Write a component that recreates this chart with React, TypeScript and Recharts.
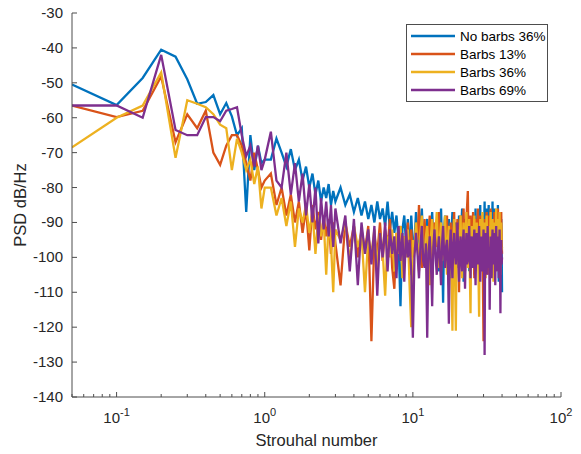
import { LineChart, Line, XAxis, YAxis } from "recharts";

// Strouhal number bins (subset of the PSD frequency axis)
const strouhal = [
  0.05, 0.1, 0.15, 0.2, 0.25, 0.3, 0.35, 0.4, 0.45, 0.5,
  0.55, 0.6, 0.65, 0.7, 0.75, 0.8, 0.85, 0.9, 0.95, 1.0,
  1.1, 1.2, 1.3, 1.4, 1.5, 1.6, 1.7, 1.8, 1.9, 2.0,
  2.1, 2.2, 2.3, 2.4, 2.5, 2.6, 2.7, 2.8, 2.9, 3.0,
  3.25, 3.5, 3.75, 4.0, 4.25, 4.5, 4.75, 5.0, 5.25, 5.5,
  5.75, 6.0, 6.25, 6.5, 6.75, 7.0, 7.25, 7.5, 7.75, 8.0,
  8.25, 8.5, 8.75, 9.0, 9.25, 9.5, 9.75, 10.0,
  10.25, 10.5, 10.75, 11, 11.25, 11.5, 11.75, 12, 12.25, 12.5,
  12.75, 13, 13.25, 13.5, 13.75, 14, 14.25, 14.5, 14.75, 15,
  15.25, 15.5, 15.75, 16, 16.25, 16.5, 16.75, 17, 17.25, 17.5,
  17.75, 18, 18.25, 18.5, 18.75, 19, 19.25, 19.5, 19.75, 20,
  20.25, 20.5, 20.75, 21, 21.25, 21.5, 21.75, 22, 22.25, 22.5,
  22.75, 23, 23.25, 23.5, 23.75, 24, 24.25, 24.5, 24.75, 25,
  25.25, 25.5, 25.75, 26, 26.25, 26.5, 26.75, 27, 27.25, 27.5,
  27.75, 28, 28.25, 28.5, 28.75, 29, 29.25, 29.5, 29.75, 30,
  30.25, 30.5, 30.75, 31, 31.25, 31.5, 31.75, 32, 32.25, 32.5,
  32.75, 33, 33.25, 33.5, 33.75, 34, 34.25, 34.5, 34.75, 35,
  35.25, 35.5, 35.75, 36, 36.25, 36.5, 36.75, 37, 37.25, 37.5,
  37.75, 38, 38.25, 38.5, 38.75, 39, 39.25, 39.5, 39.75, 40,
];

const noBarbs36 = [
  -50.5, -56.4, -48.6, -40.5, -42.5, -49, -56, -55.5, -53.5, -59,
  -55.8, -59.6, -65, -63, -87, -65, -75, -68, -73, -72,
  -72, -66, -70, -74, -69, -75, -72, -78, -74, -80,
  -76, -82, -78, -84, -80, -83, -79, -85, -81, -84,
  -80, -85, -82, -87, -83, -88, -84, -89, -85, -90,
  -84, -89, -86, -91, -84, -92, -87, -93, -88, -95,
  -114, -92, -88, -96, -89, -100, -88, -97,
  -96, -87, -94, -102, -91, -86, -97, -98, -93, -89,
  -99, -105, -92, -87, -95, -99, -91, -90, -97, -104,
  -93, -86, -98, -113, -92, -88, -96, -100, -93, -89,
  -97, -106, -92, -87, -95, -101, -93, -90, -98, -103,
  -94, -88, -96, -99, -91, -86, -97, -107, -92, -89,
  -95, -100, -93, -87, -97, -104, -92, -90, -96, -98,
  -93, -88, -98, -105, -91, -86, -95, -101, -92, -89,
  -96, -103, -91, -85, -97, -100, -93, -88, -95, -106,
  -92, -84, -97, -102, -90, -86, -96, -99, -91, -85,
  -95, -104, -92, -87, -98, -101, -90, -84, -96, -105,
  -93, -86, -97, -100, -91, -88, -95, -103, -92, -85,
  -96, -107, -91, -87, -98, -104, -93, -89, -97, -110,
];

const barbs13 = [
  -56.5, -59.8, -58, -48.2, -67, -59, -63, -58, -70, -73.5,
  -68, -65, -65, -68, -73, -78, -70, -75, -80, -78,
  -76, -85, -80, -88, -82, -90, -84, -93, -86, -98,
  -85, -92, -87, -95, -88, -94, -89, -99, -90, -96,
  -108, -90, -97, -91, -100, -92, -98, -91, -124, -94,
  -99, -90, -101, -92, -97, -89, -103, -109, -93, -98,
  -91, -102, -94, -99, -90, -105, -92, -100,
  -98, -92, -95, -85, -100, -103, -94, -89, -97, -98,
  -93, -88, -99, -106, -92, -90, -96, -97, -91, -87,
  -99, -104, -93, -91, -97, -99, -92, -88, -101, -108,
  -94, -90, -98, -96, -92, -87, -100, -102, -93, -89,
  -97, -110, -92, -88, -99, -97, -93, -86, -98, -104,
  -92, -89, -85, -81, -96, -100, -93, -88, -99, -95,
  -92, -87, -98, -106, -93, -89, -97, -98, -92, -86,
  -99, -103, -94, -88, -96, -97, -93, -90, -110, -124,
  -95, -89, -98, -99, -92, -87, -100, -105, -94, -88,
  -97, -96, -92, -86, -99, -102, -93, -89, -97, -98,
  -94, -87, -100, -104, -93, -88, -96, -97, -92, -86,
  -98, -101, -93, -89, -97, -96, -92, -87, -95, -99,
];

const barbs36 = [
  -68.5, -60, -56.5, -47, -71.5, -55, -56, -57, -59, -62,
  -63, -75, -66, -70, -75, -72, -79, -74, -86, -80,
  -80, -88, -83, -91, -84, -97, -86, -90, -85, -93,
  -87, -99, -88, -94, -89, -105, -90, -96, -110, -92,
  -95, -90, -101, -91, -97, -93, -110, -94, -99, -92,
  -103, -93, -98, -111, -94, -100, -92, -104, -93, -99,
  -91, -106, -94, -100, -92, -108, -120, -95,
  -97, -90, -96, -104, -93, -88, -100, -99, -94, -91,
  -98, -108, -94, -89, -99, -98, -92, -87, -97, -103,
  -94, -90, -101, -99, -93, -88, -98, -105, -95, -91,
  -99, -100, -107, -121, -96, -89, -104, -121, -97, -92,
  -93, -99, -96, -88, -100, -106, -94, -90, -99, -98,
  -93, -87, -99, -103, -94, -89, -105, -116, -96, -91,
  -95, -100, -93, -88, -99, -104, -94, -90, -97, -98,
  -106, -117, -94, -89, -99, -101, -93, -87, -98, -97,
  -94, -90, -100, -106, -93, -88, -97, -99, -95, -91,
  -98, -103, -94, -87, -99, -100, -93, -89, -101, -107,
  -95, -90, -98, -98, -93, -86, -99, -104, -94, -89,
  -96, -100, -93, -87, -99, -105, -95, -90, -98, -97,
];

const barbs69 = [
  -56.5, -56.5, -60, -42, -63.5, -65, -65, -59.8, -59.8, -61,
  -58, -57.5, -57, -65, -71, -68, -74, -68, -75, -72,
  -64, -78, -80, -70, -82, -73, -84, -76, -88, -79,
  -90, -80, -96, -83, -92, -84, -94, -85, -97, -86,
  -96, -88, -104, -89, -108, -90, -99, -92, -102, -91,
  -111, -93, -100, -90, -104, -92, -99, -94, -106, -91,
  -101, -93, -107, -92, -100, -95, -104, -123,
  -100, -93, -99, -106, -97, -91, -101, -103, -96, -123,
  -99, -94, -102, -114, -97, -92, -100, -105, -98, -94,
  -101, -108, -96, -91, -99, -103, -97, -95, -102, -119,
  -98, -92, -101, -106, -96, -93, -99, -102, -97, -90,
  -100, -107, -97, -94, -101, -104, -96, -92, -100, -109,
  -98, -93, -102, -101, -96, -91, -99, -106, -97, -94,
  -100, -103, -96, -92, -101, -108, -97, -93, -99, -102,
  -96, -91, -100, -107, -98, -94, -102, -104, -97, -92,
  -101, -128, -97, -93, -100, -105, -96, -91, -99, -103,
  -97, -115, -101, -94, -99, -106, -96, -92, -100, -102,
  -98, -93, -101, -108, -97, -91, -100, -104, -96, -94,
  -99, -106, -97, -92, -101, -116, -98, -95, -102, -100,
];

const seriesNames = ["No barbs 36%", "Barbs 13%", "Barbs 36%", "Barbs 69%"];
const seriesColors = ["#0072BD", "#D95319", "#EDB120", "#7E2F8E"];
const seriesKeys = ["nb36", "b13", "b36", "b69"];

const yTicks = [-140, -130, -120, -110, -100, -90, -80, -70, -60, -50, -40, -30];
const xMajor = [0.1, 1, 10, 100];
const xMinor = [
  0.05, 0.06, 0.07, 0.08, 0.09,
  0.2, 0.3, 0.4, 0.5, 0.6, 0.7, 0.8, 0.9,
  2, 3, 4, 5, 6, 7, 8, 9,
  20, 30, 40, 50, 60, 70, 80, 90,
];

const data = strouhal.map((x, i) => ({
  x,
  nb36: noBarbs36[i],
  b13: barbs13[i],
  b36: barbs36[i],
  b69: barbs69[i],
}));

const FONT = '"Liberation Sans", Arial, Helvetica, sans-serif';
const TEXT = "#262626";
const AXIS = "#4d4d4d";

function XTick({ x, y, payload }: any) {
  const v = payload.value;
  const e = Math.round(Math.log10(v));
  const major = xMajor.includes(v);
  return (
    <g>
      <line x1={x} x2={x} y1={y} y2={y - (major ? 5 : 3)} stroke={AXIS} strokeWidth={1} />
      {major && (
        <text x={x} y={y + 26} textAnchor="middle" fontSize={15} fill={TEXT} fontFamily={FONT}>
          <tspan>10</tspan>
          <tspan dy={-7} fontSize={11}>{e}</tspan>
        </text>
      )}
    </g>
  );
}

function YTick({ x, y, payload }: any) {
  return (
    <g>
      <line x1={x} x2={x + 5} y1={y} y2={y} stroke={AXIS} strokeWidth={1} />
      <text x={x - 9} y={y} dy={5} textAnchor="end" fontSize={15} fill={TEXT} fontFamily={FONT}>
        {payload.value}
      </text>
    </g>
  );
}

function LegendBox() {
  return (
    <div
      style={{
        position: "absolute",
        left: 406,
        top: 24,
        border: `1px solid ${AXIS}`,
        background: "#fff",
        width: 140,
        padding: "2px 0",
        fontFamily: FONT,
        fontSize: 13.5,
        color: "#000",
      }}
    >
      {seriesNames.map((name, i) => (
        <div key={name} style={{ display: "flex", alignItems: "center", height: 18 }}>
          <svg width={53} height={18} style={{ flexShrink: 0 }}>
            <line x1={4} x2={48} y1={9} y2={9} stroke={seriesColors[i]} strokeWidth={2.5} />
          </svg>
          <span>{name}</span>
        </div>
      ))}
    </div>
  );
}

export default function App() {
  return (
    <div style={{ position: "absolute", left: 0, top: 0, width: 581, height: 454, background: "#fff" }}>
      <LineChart
        width={581}
        height={454}
        data={data}
        margin={{ top: 13, right: 20, bottom: 16, left: 12 }}
      >
        <XAxis
          dataKey="x"
          type="number"
          scale="log"
          domain={[0.05, 100]}
          allowDataOverflow
          ticks={[...xMinor, ...xMajor].sort((a, b) => a - b)}
          interval={0}
          tick={<XTick />}
          tickLine={false}
          tickSize={0}
          tickMargin={0}
          height={41}
          axisLine={{ stroke: AXIS }}
          label={{
            value: "Strouhal number",
            position: "insideBottom",
            offset: -8,
            fontSize: 16.5,
            fill: TEXT,
            fontFamily: FONT,
          }}
        />
        <YAxis
          type="number"
          domain={[-140, -30]}
          ticks={yTicks}
          interval={0}
          tick={<YTick />}
          tickLine={false}
          tickSize={0}
          tickMargin={0}
          width={60}
          axisLine={{ stroke: AXIS }}
          label={{
            value: "PSD dB/Hz",
            angle: -90,
            position: "insideLeft",
            offset: 8,
            style: { textAnchor: "middle" },
            fontSize: 16.5,
            fill: TEXT,
            fontFamily: FONT,
          }}
        />
        {seriesKeys.map((k, i) => (
          <Line
            key={k}
            type="linear"
            dataKey={k}
            name={seriesNames[i]}
            stroke={seriesColors[i]}
            strokeWidth={2.3}
            dot={false}
            isAnimationActive={false}
          />
        ))}
      </LineChart>
      <LegendBox />
    </div>
  );
}
